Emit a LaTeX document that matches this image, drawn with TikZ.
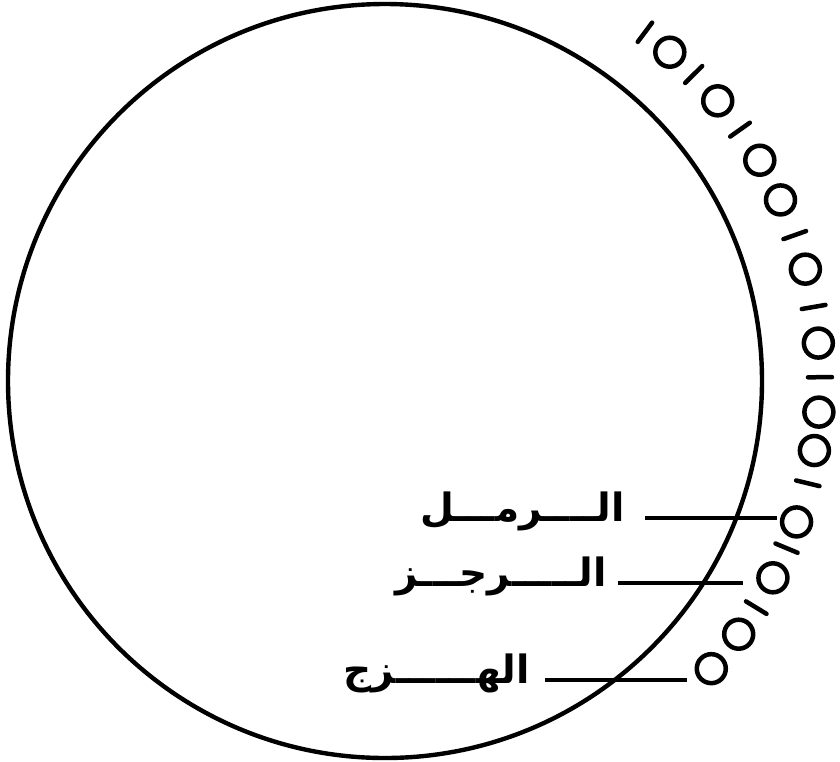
\documentclass[tikz,border=0pt]{standalone}
\usepackage{fontspec}
\TeXXeTstate=1
\newfontfamily\arabicfont[Script=Arabic]{DejaVu Sans}
\begin{document}
\begin{tikzpicture}[x=1pt,y=-1pt,
  ring/.style={circle,draw,line width=4.4pt,inner sep=0pt,minimum size=754pt},
  sukun/.style={circle,draw,line width=4.5pt,inner sep=0pt,minimum size=29pt},
  haraka/.style={line width=4.5pt,line cap=round},
  leader/.style={line width=3.5pt},
  lbl/.style={anchor=base east,inner sep=0pt,font=\arabicfont\bfseries\fontsize{39}{44}\selectfont}]
\useasboundingbox (0,0) rectangle (840,761);
\node[ring] (C) at (385,381) {};
% sukun marks (o)
\foreach \n/\a in {2/49.1,4/40.1,6/30.5,7/24.6,9/14.9,11/5.0,13/-4.1,14/-9.2,16/-18.9,18/-26.9,20/-35.6,21/-41.4}{
  \node[sukun] (m\n) at ({385+435*cos(\a)},{381-435*sin(\a)}) {};
}
% haraka marks (/)
\foreach \n/\a in {1/53.3,3/44.8,5/35.3,8/19.6,10/9.8,12/0.5,15/-13.6,17/-22.6,19/-31.4}{
  \coordinate (s\n a) at ({385+423*cos(\a)},{381-423*sin(\a)});
  \coordinate (s\n b) at ({385+447*cos(\a)},{381-447*sin(\a)});
  \draw[haraka] (s\n a) -- (s\n b);
}
% labels
\node[lbl] (ramal) at (625,521) {\beginR الــــرمـــل\endR};
\node[lbl] (rajaz) at (607,586) {\beginR الـــــرجـــز\endR};
\node[lbl] (hazaj) at (530,683) {\beginR الهــــــزج\endR};
\coordinate (ramalA) at (645,518);
\coordinate (ramalB) at (777,518);
\coordinate (rajazA) at (618,583);
\coordinate (rajazB) at (743,583);
\coordinate (hazajA) at (545,680);
\coordinate (hazajB) at (687,680);
\draw[leader] (ramalA) -- (ramalB);
\draw[leader] (rajazA) -- (rajazB);
\draw[leader] (hazajA) -- (hazajB);
\end{tikzpicture}
\end{document}
